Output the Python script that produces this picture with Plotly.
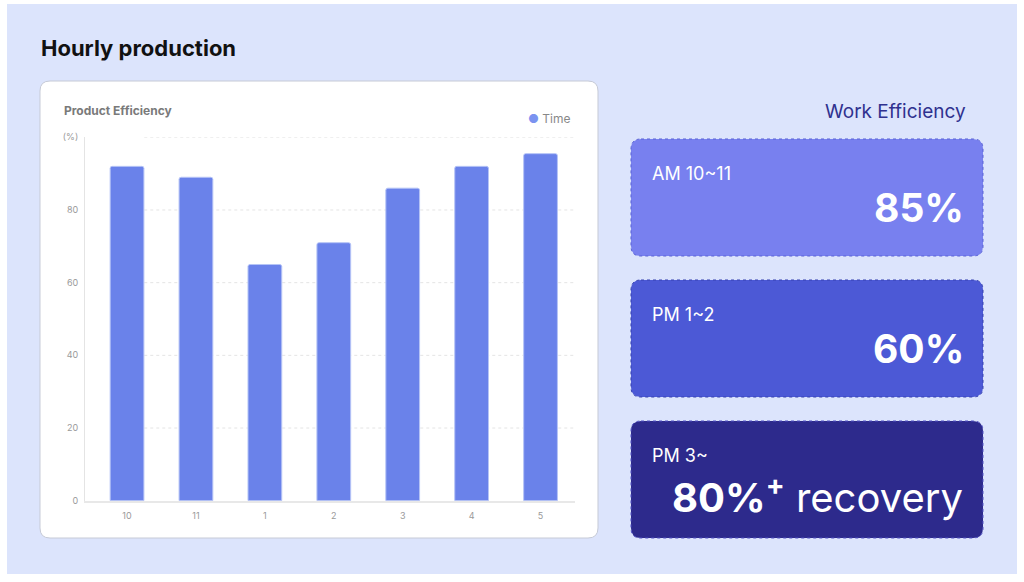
import plotly.graph_objects as go

W, H = 1024, 582

# chart data
hours = ["10", "11", "1", "2", "3", "4", "5"]
efficiency = [92, 89, 65, 71, 86, 92, 95.5]
y_ticks = [0, 20, 40, 60, 80, 100]
y_tick_text = ["0", "20", "40", "60", "80", "(%)"]

# side cards
periods = ["AM 10~11", "PM 1~2", "PM 3~"]
period_values = ["85%", "60%", "80%"]
card_colors = ["#7880EF", "#4C59D6", "#2D2A8C"]
card_borders = ["#5A62D6", "#3540B0", "#5353C4"]

FONT = "Inter"


def px(x):
    return x / W


def py(y):
    return 1 - y / H


def rrect(x0, y0, x1, y1, r):
    # rounded rectangle path in paper coords, input in pixels
    pts = [
        ("M", [(x0 + r, y0)]),
        ("L", [(x1 - r, y0)]),
        ("Q", [(x1, y0), (x1, y0 + r)]),
        ("L", [(x1, y1 - r)]),
        ("Q", [(x1, y1), (x1 - r, y1)]),
        ("L", [(x0 + r, y1)]),
        ("Q", [(x0, y1), (x0, y1 - r)]),
        ("L", [(x0, y0 + r)]),
        ("Q", [(x0, y0), (x0 + r, y0)]),
    ]
    s = ""
    for cmd, p in pts:
        s += cmd + " ".join("%.5f,%.5f" % (px(a), py(b)) for a, b in p) + " "
    return s + "Z"


fig = go.Figure()

fig.add_trace(go.Bar(
    x=hours,
    y=efficiency,
    name="Time",
    width=0.49,
    marker=dict(color="#6A82EA", line=dict(color="#B6C4F6", width=1)),
    showlegend=False,
    hoverinfo="x+y",
))

shapes = []
# page background
shapes.append(dict(type="rect", xref="paper", yref="paper",
                   x0=px(7), x1=px(1017), y0=py(574), y1=py(4),
                   fillcolor="#DCE4FC", line=dict(width=0), layer="below"))
# white chart card
shapes.append(dict(type="path", xref="paper", yref="paper",
                   path=rrect(40, 81, 598, 538, 10),
                   fillcolor="white", line=dict(color="#C6CAD6", width=1), layer="below"))
# efficiency cards
card_tops = [139, 280, 421]
for top, c, b in zip(card_tops, card_colors, card_borders):
    shapes.append(dict(type="path", xref="paper", yref="paper",
                       path=rrect(631, top, 983, top + 117, 10),
                       fillcolor=c, line=dict(color=b, width=1, dash="dot"), layer="below"))

# dotted gridlines
for t in y_ticks[1:]:
    shapes.append(dict(type="line", xref="x", yref="y", x0=0.25, x1=6.5, y0=t, y1=t,
                       line=dict(color="#E4E4E4", width=1, dash="dot"), layer="below"))

annotations = [
    dict(text="<b>Hourly production</b>", x=px(39), y=py(48), xanchor="left", yanchor="middle",
         font=dict(size=22, color="#111111")),
    dict(text="<b>Product Efficiency</b>", x=px(62), y=py(110), xanchor="left", yanchor="middle",
         font=dict(size=12, color="#7A7A7A")),
    dict(text="<span style='color:#7B93F0'>●</span> Time", x=px(573), y=py(119),
         xanchor="right", yanchor="middle", font=dict(size=12, color="#888888")),
    dict(text="Work Efficiency", x=px(968), y=py(111), xanchor="right", yanchor="middle",
         font=dict(size=19, color="#2F318F")),
]
for top, label in zip(card_tops, periods):
    annotations.append(dict(text=label, x=px(650), y=py(top + 34), xanchor="left", yanchor="middle",
                            font=dict(size=18, color="white")))
annotations.append(dict(text="<b>%s</b>" % period_values[0], x=px(966), y=py(207),
                        xanchor="right", yanchor="middle", font=dict(size=39, color="white")))
annotations.append(dict(text="<b>%s</b>" % period_values[1], x=px(966), y=py(348),
                        xanchor="right", yanchor="middle", font=dict(size=39, color="white")))
annotations.append(dict(text="<b>%s</b><sup><b>+</b></sup> recovery" % period_values[2],
                        x=px(965), y=py(495), xanchor="right", yanchor="middle",
                        font=dict(size=40, color="white")))
for a in annotations:
    a.update(xref="paper", yref="paper", showarrow=False)
    a["font"]["family"] = FONT

fig.update_layout(
    width=W, height=H, autosize=False,
    margin=dict(l=0, r=0, t=0, b=0, pad=0),
    paper_bgcolor="white",
    plot_bgcolor="rgba(0,0,0,0)",
    font=dict(family=FONT, color="#9A9A9A", size=9),
    shapes=shapes,
    annotations=annotations,
    barcornerradius=2,
    showlegend=False,
    xaxis=dict(domain=[px(85), px(575)], type="category", range=[-0.61, 6.5],
               showline=True, linecolor="#E8E8E8", linewidth=2, showgrid=False,
               ticks="", fixedrange=True, automargin=False, ticklabelstandoff=5,
               tickfont=dict(color="#9A9A9A", size=9)),
    yaxis=dict(domain=[py(500.7), py(137.3)], range=[0, 100], tickvals=y_ticks,
               ticktext=y_tick_text, showline=True, linecolor="#E4E4E4", linewidth=1,
               showgrid=False, zeroline=False, ticks="", fixedrange=True, automargin=False,
               ticklabelstandoff=4, tickfont=dict(color="#9A9A9A", size=9)),
)

# keep the page itself from adding margins / scroll space around the figure
page_css = (
    "var s=document.documentElement.style;s.margin='0';s.padding='0';s.overflow='hidden';"
    "var b=document.body.style;b.margin='0';b.padding='0';b.overflow='hidden';"
)
fig.write_html("out.html", post_script=page_css, config={"displayModeBar": False})
